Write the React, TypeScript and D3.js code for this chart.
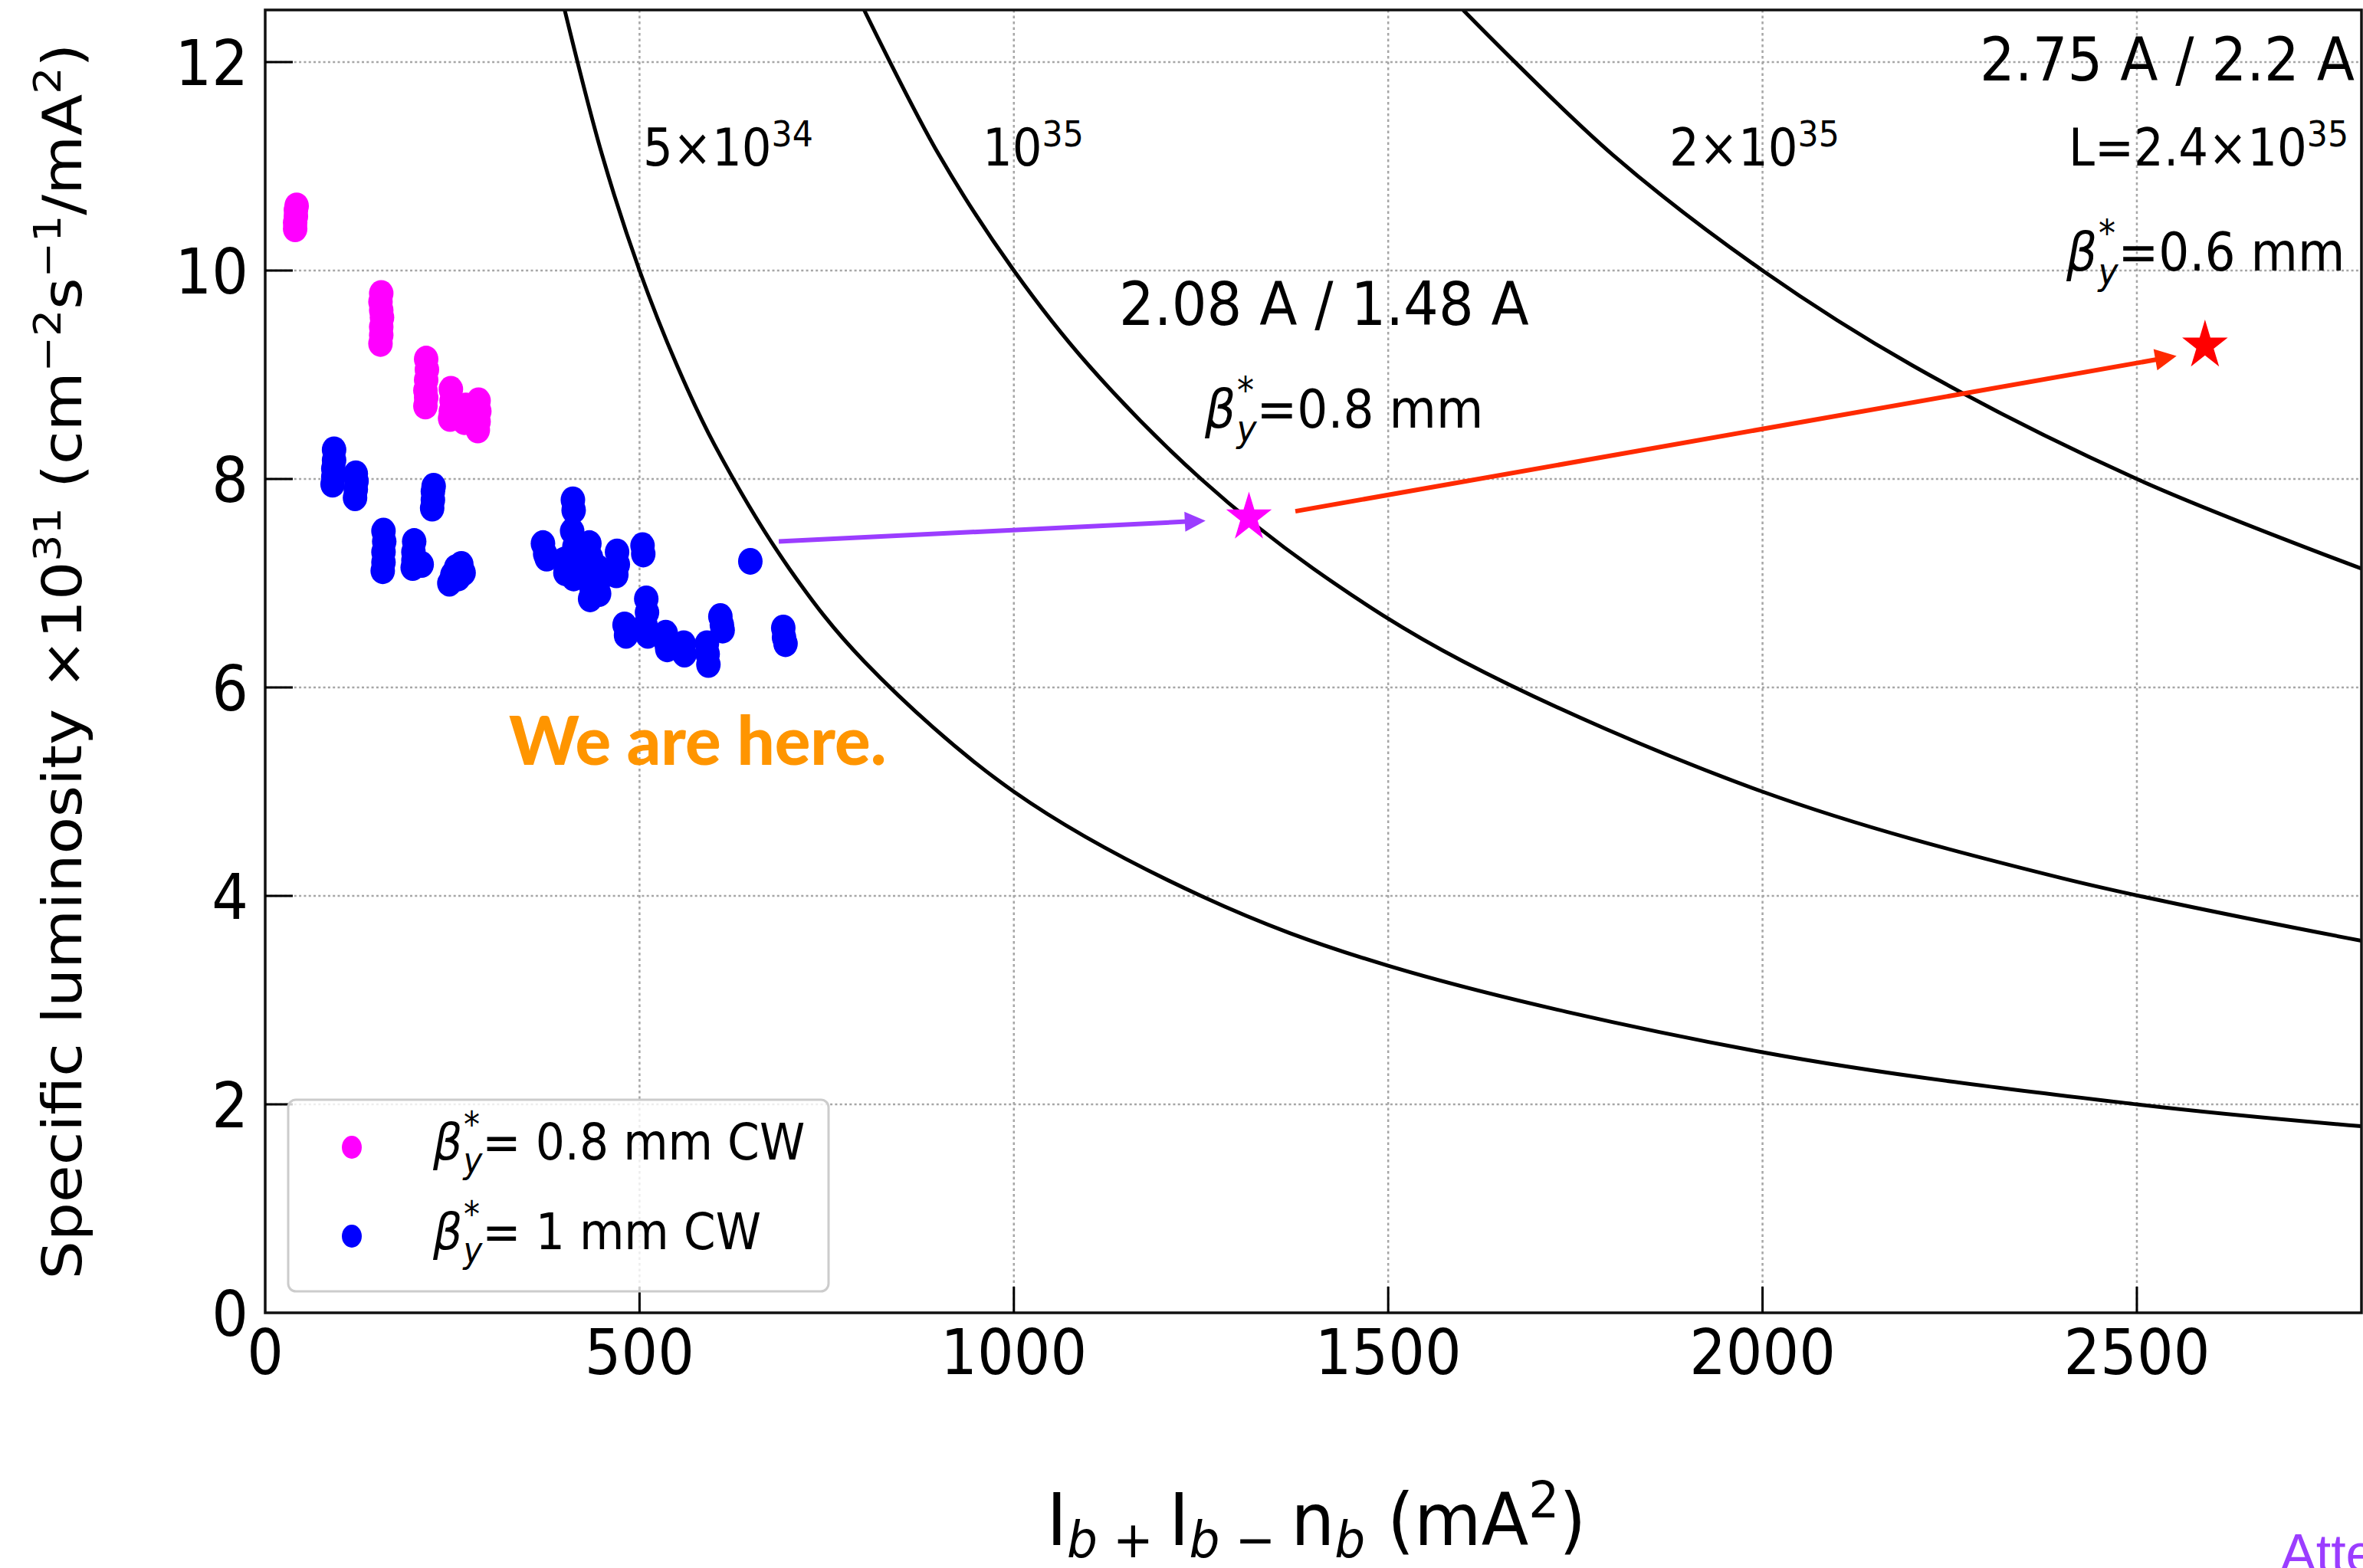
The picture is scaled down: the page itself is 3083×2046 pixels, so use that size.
import React, { useLayoutEffect } from 'react';
import * as d3 from 'd3';

const W = 3083;
const H = 2046;

const xTicks = [0, 500, 1000, 1500, 2000, 2500];
const yTicks = [0, 2, 4, 6, 8, 10, 12];

// beta*_y = 0.8 mm CW
const magentaPts: [number, number][] = [
  [40, 10.4], [40, 10.46], [41, 10.52], [41, 10.58], [42, 10.62],
  [154, 9.3], [155, 9.38], [155, 9.46], [156, 9.55], [155, 9.62], [154, 9.7], [155, 9.78],
  [214, 8.7], [215, 8.78], [214, 8.85], [215, 8.95], [216, 9.05], [215, 9.15],
  [247, 8.58], [248, 8.65], [249, 8.75], [248, 8.86],
  [266, 8.55], [267, 8.62], [268, 8.7],
  [284, 8.47], [285, 8.55], [286, 8.65], [285, 8.75],
];

// beta*_y = 1 mm CW
const bluePts: [number, number][] = [
  [90, 7.95], [91, 8.02], [91, 8.1], [92, 8.18], [92, 8.28],
  [120, 7.82], [121, 7.9], [122, 7.98], [121, 8.05],
  [223, 7.72], [224, 7.8], [224, 7.88], [225, 7.93],
  [157, 7.12], [158, 7.2], [158, 7.3], [159, 7.4], [158, 7.5],
  [197, 7.15], [198, 7.22], [198, 7.3], [199, 7.4], [209, 7.18],
  [246, 7.0], [250, 7.08], [255, 7.15], [258, 7.05], [262, 7.18], [265, 7.1],
  [371, 7.38], [374, 7.28], [376, 7.24],
  [399, 7.22], [401, 7.1],
  [411, 7.8], [412, 7.7], [410, 7.5], [413, 7.35], [409, 7.2], [412, 7.05],
  [433, 7.38], [435, 7.25], [432, 7.1], [436, 6.95], [434, 6.85],
  [446, 6.9], [448, 7.05], [444, 7.15],
  [470, 7.3], [471, 7.18], [469, 7.08],
  [504, 7.36], [505, 7.28],
  [480, 6.6], [482, 6.5],
  [509, 6.85], [510, 6.72], [508, 6.6], [511, 6.5],
  [535, 6.52], [536, 6.42], [537, 6.37],
  [559, 6.42], [560, 6.32],
  [590, 6.42], [591, 6.32], [592, 6.22],
  [608, 6.68], [610, 6.6], [611, 6.55],
  [648, 7.21],
  [692, 6.57], [693, 6.48], [695, 6.42],
];

// constant-luminosity contours at grid crossings
const curve5e34: [number, number][] = [
  [400, 12.5], [450, 11.11], [500, 10], [550, 9.09], [600, 8.33], [700, 7.14], [800, 6.25],
  [1000, 5], [1250, 4], [1500, 3.33], [2000, 2.5], [2500, 2], [2800, 1.79],
];
const curve1e35: [number, number][] = [
  [800, 12.5], [900, 11.11], [1000, 10], [1100, 9.09], [1250, 8], [1400, 7.14], [1600, 6.25],
  [2000, 5], [2400, 4.17], [2800, 3.57],
];
const curve2e35: [number, number][] = [
  [1600, 12.5], [1800, 11.11], [2000, 10], [2200, 9.09], [2500, 8], [2800, 7.14],
];
const curves = [curve5e34, curve1e35, curve2e35];

const starNow: [number, number] = [1314, 7.63];
const starGoal: [number, number] = [2591, 9.28];
const arrowPurple: [number, number][] = [[686, 7.4], [1256, 7.6]];
const arrowRed: [number, number][] = [[1376, 7.69], [2553, 9.18]];

const L = 346, R = 3081, T = 13, B = 1713;
const FONT = 'DejaVu Sans, Verdana, sans-serif';
const SY = 1.1;

const x = d3.scaleLinear().domain([0, 2800]).range([L, R]);
const y = d3.scaleLinear().domain([0, 12.5]).range([B, T]);

function Txt(props: any) {
  const { px, py, size, anchor = 'start', fill = '#000', children, rotate = 0, family = FONT, weight = 'normal', sy = SY } = props;
  return (
    <text
      transform={`translate(${px},${py}) scale(1,${sy})${rotate ? ` rotate(${rotate})` : ''}`}
      fontSize={size}
      fontFamily={family}
      fontWeight={weight}
      textAnchor={anchor}
      fill={fill}
    >
      {children}
    </text>
  );
}

function Sup({ F, children, after }: any) {
  return (
    <>
      <tspan dy={-0.38 * F} fontSize={0.7 * F}>{children}</tspan>
      {after !== undefined ? <tspan dy={0.38 * F}>{after}</tspan> : null}
    </>
  );
}

function BetaY({ F }: { F: number }) {
  return (
    <>
      <tspan fontStyle="italic">β</tspan>
      <tspan dx={0.03 * F} dy={-0.46 * F} fontSize={0.7 * F}>*</tspan>
      <tspan dx={-0.36 * F} dy={0.72 * F} fontSize={0.7 * F} fontStyle="italic">y</tspan>
    </>
  );
}

function Arrow({ pts, color, width, headLen, headHalf }: any) {
  const [x0, y0] = [x(pts[0][0]), y(pts[0][1])];
  const [x1, y1] = [x(pts[1][0]), y(pts[1][1])];
  const dx = x1 - x0, dy = y1 - y0;
  const len = Math.hypot(dx, dy);
  const ux = dx / len, uy = dy / len;
  const bx = x1 - ux * headLen, by = y1 - uy * headLen;
  const px = -uy, py = ux;
  const head = `${x1},${y1} ${bx + px * headHalf},${by + py * headHalf} ${bx - px * headHalf},${by - py * headHalf}`;
  return (
    <g>
      <line x1={x0} y1={y0} x2={bx + ux * 2} y2={by + uy * 2} stroke={color} strokeWidth={width} />
      <polygon points={head} fill={color} />
    </g>
  );
}

export default function App() {
  useLayoutEffect(() => {
    document.body.style.margin = '0';
    document.body.style.overflow = 'hidden';
  }, []);

  const line = d3.line<[number, number]>().x(d => x(d[0])).y(d => y(d[1])).curve(d3.curveCatmullRom.alpha(0.5));
  const star = d3.symbol().type(d3.symbolStar).size(1100);

  const F_tick = 75;
  const F_ann = 61;
  const F_big = 72;
  const F_beta = 63;
  const F_leg = 60;
  const F_lab = 72;
  const F_xl = 90;

  return (
    <svg width={W} height={H} style={{ position: 'absolute', left: 0, top: 0, display: 'block', background: '#fff' }}>
      <defs>
        <clipPath id="plotclip">
          <rect x={L} y={T} width={R - L} height={B - T} />
        </clipPath>
      </defs>
      <rect x={0} y={0} width={W} height={H} fill="#fff" />

      {/* grid */}
      <g>
        {xTicks.filter(t => t > 0).map(t => (
          <line key={'gx' + t} x1={x(t)} x2={x(t)} y1={T} y2={B} stroke="#a6a6a6" strokeWidth={2.5} strokeDasharray="3.5,4" />
        ))}
        {yTicks.filter(t => t > 0).map(t => (
          <line key={'gy' + t} x1={L} x2={R} y1={y(t)} y2={y(t)} stroke="#a6a6a6" strokeWidth={2.5} strokeDasharray="3,3.3" />
        ))}
      </g>

      {/* contours */}
      <g clipPath="url(#plotclip)">
        {curves.map((c, i) => (
          <path key={'c' + i} d={line(c) || ''} fill="none" stroke="#000" strokeWidth={5} />
        ))}
      </g>

      {/* scatter */}
      <g clipPath="url(#plotclip)">
        {bluePts.map((d, i) => (
          <ellipse key={'b' + i} cx={x(d[0])} cy={y(d[1])} rx={16} ry={17.5} fill="#0000ff" />
        ))}
        {magentaPts.map((d, i) => (
          <ellipse key={'m' + i} cx={x(d[0])} cy={y(d[1])} rx={16} ry={17.5} fill="#ff00ff" />
        ))}
      </g>

      {/* arrows and stars */}
      <Arrow pts={arrowPurple} color="#9b3dff" width={6} headLen={27} headHalf={13} />
      <Arrow pts={arrowRed} color="#ff2a00" width={6} headLen={28} headHalf={14} />
      <path d={star() || ''} transform={`translate(${x(starNow[0])},${y(starNow[1])}) scale(1,1.08)`} fill="#ff00ff" />
      <path d={star() || ''} transform={`translate(${x(starGoal[0])},${y(starGoal[1])}) scale(1,1.08)`} fill="#ff0000" />

      {/* spines */}
      <rect x={L} y={T} width={R - L} height={B - T} fill="none" stroke="#111" strokeWidth={3.5} />

      {/* ticks */}
      {xTicks.filter(t => t > 0).map(t => (
        <line key={'tx' + t} x1={x(t)} x2={x(t)} y1={B} y2={B - 34} stroke="#000" strokeWidth={3} />
      ))}
      {yTicks.filter(t => t > 0).map(t => (
        <line key={'ty' + t} x1={L} x2={L + 36} y1={y(t)} y2={y(t)} stroke="#000" strokeWidth={3} />
      ))}

      {/* tick labels */}
      {xTicks.map(t => (
        <Txt key={'lx' + t} px={x(t)} py={1793} size={F_tick} anchor="middle">{String(t)}</Txt>
      ))}
      {yTicks.map(t => (
        <Txt key={'ly' + t} px={324} py={y(t) + 30} size={F_tick} anchor="end">{String(t)}</Txt>
      ))}

      {/* axis labels */}
      <Txt px={(L + R) / 2 + 4} py={2016} size={F_xl} anchor="middle" sy={1.05}>
        <tspan>I</tspan>
        <tspan dy={0.17 * F_xl} fontSize={0.7 * F_xl}><tspan fontStyle="italic">b</tspan>{' + '}</tspan>
        <tspan dy={-0.17 * F_xl}>I</tspan>
        <tspan dy={0.17 * F_xl} fontSize={0.7 * F_xl}><tspan fontStyle="italic">b</tspan>{' − '}</tspan>
        <tspan dy={-0.17 * F_xl}>n</tspan>
        <tspan dy={0.17 * F_xl} fontSize={0.7 * F_xl} fontStyle="italic">b</tspan>
        <tspan dy={-0.17 * F_xl}> (mA</tspan>
        <Sup F={F_xl} after=")">2</Sup>
      </Txt>
      <Txt px={106} py={(T + B) / 2} size={F_lab} anchor="middle" rotate={-90}>
        <tspan>Specific luminosity ×10</tspan>
        <Sup F={F_lab} after=" (cm">31</Sup>
        <Sup F={F_lab} after="s">−2</Sup>
        <Sup F={F_lab} after="/mA">−1</Sup>
        <Sup F={F_lab} after=")">2</Sup>
      </Txt>

      {/* contour labels */}
      <Txt px={839} py={216} size={F_ann}>5×10<Sup F={F_ann}>34</Sup></Txt>
      <Txt px={1282} py={216} size={F_ann}>10<Sup F={F_ann}>35</Sup></Txt>
      <Txt px={2178} py={216} size={F_ann}>2×10<Sup F={F_ann}>35</Sup></Txt>
      <Txt px={2699} py={216} size={F_ann}>L=2.4×10<Sup F={F_ann}>35</Sup></Txt>

      {/* working points */}
      <Txt px={2583} py={105} size={F_big}>2.75 A / 2.2 A</Txt>
      <Txt px={2696} py={353} size={F_beta}><BetaY F={F_beta} /><tspan dy={-0.26 * F_beta}>=0.6 mm</tspan></Txt>
      <Txt px={1460} py={424} size={F_big}>2.08 A / 1.48 A</Txt>
      <Txt px={1572} py={558} size={F_beta}><BetaY F={F_beta} /><tspan dy={-0.26 * F_beta}>=0.8 mm</tspan></Txt>

      <Txt px={664} py={998} size={87} fill="#ff9500" family="Lato, 'Open Sans', sans-serif" weight={900} sy={1}>We are here.</Txt>

      {/* legend */}
      <rect x={376} y={1435} width={705} height={250} rx={10} fill="#fff" fillOpacity={0.8} stroke="#cccccc" strokeWidth={3} />
      <ellipse cx={459} cy={1497} rx={13} ry={15} fill="#ff00ff" />
      <ellipse cx={459} cy={1613} rx={13} ry={15} fill="#0000ff" />
      <Txt px={565} py={1513} size={F_leg}><BetaY F={F_leg} /><tspan dy={-0.26 * F_leg}>= 0.8 mm CW</tspan></Txt>
      <Txt px={565} py={1630} size={F_leg}><BetaY F={F_leg} /><tspan dy={-0.26 * F_leg}>= 1 mm CW</tspan></Txt>

      <text x={2975} y={2051} fontSize={70} fontFamily="'Liberation Sans', Arial, sans-serif" fill="#9b3dff">Attention</text>
    </svg>
  );
}
